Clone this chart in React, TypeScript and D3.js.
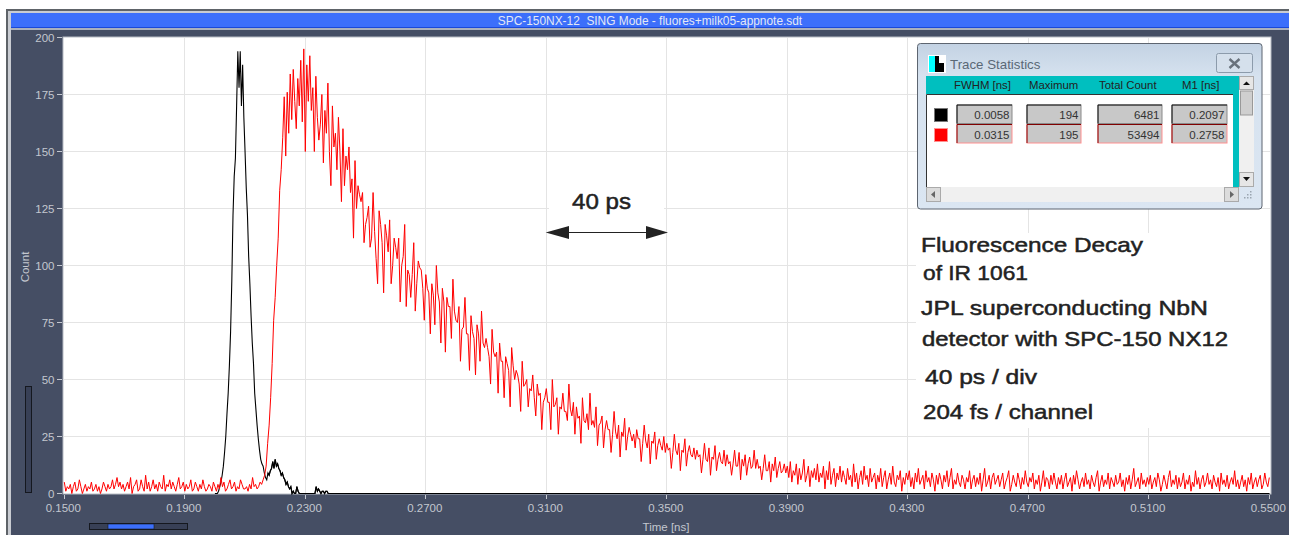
import React from "react";
import * as d3 from "d3";

const xTicks = [0.15, 0.19, 0.23, 0.27, 0.31, 0.35, 0.39, 0.43, 0.47, 0.51, 0.55];
const yTicks = [0, 25, 50, 75, 100, 125, 150, 175, 200];
const statRows = [
  { color: "#000000", edge: "#8a8a8a", values: ["0.0058", "194", "6481", "0.2097"] },
  { color: "#ff0000", edge: "#ff9090", values: ["0.0315", "195", "53494", "0.2758"] },
];
const statHeaders = ["FWHM [ns]", "Maximum", "Total Count", "M1 [ns]"];

const blackStart = 0.2;
const blackStep = 0.0004;
const blackValues = [
  0, 0, 0, 1, 3, 5, 8, 12, 18, 25, 35, 44, 56, 71, 93, 122, 139, 147, 170, 194,
  178, 194, 170, 188, 165, 150, 134, 122, 104, 92, 78, 66, 57, 44, 37, 30, 24, 19, 15, 13,
  12, 9, 7, 6, 9, 8, 10, 11, 14, 11, 15, 12, 13, 11, 10, 8, 9, 7, 6, 4,
  5, 3, 2, 3, 0, 1, 0, 0, 3, 1, 0, 0, 0, 0, 0, 0, 0, 0, 0, 0,
  0, 0, 0, 0, 3, 1, 2, 1, 0, 1, 1, 0, 1, 1, 0, 0, 0, 0, 0, 0,
];
const blackTailTimes = [0.24, 0.55];
const blackTailValues = [0, 0];

const redStart = 0.15;
const redStep = 0.0005;
const redValues = [
  5, 1, 3, 2, 4, 0, 3, 5, 1, 2, 6, 3, 0, 2, 4, 1, 3, 2, 5, 1,
  2, 4, 1, 3, 0, 2, 5, 3, 1, 4, 2, 3, 6, 2, 4, 7, 3, 5, 2, 4,
  1, 3, 5, 2, 7, 0, 3, 4, 6, 1, 2, 6, 3, 1, 8, 2, 5, 1, 3, 6,
  2, 4, 1, 5, 3, 2, 8, 1, 4, 3, 6, 2, 5, 3, 1, 4, 7, 2, 3, 5,
  1, 4, 2, 3, 6, 1, 2, 5, 3, 1, 4, 2, 6, 3, 1, 2, 4, 3, 1, 5,
  3, 1, 4, 2, 7, 3, 5, 1, 2, 4, 6, 2, 3, 5, 1, 3, 2, 6, 4, 2,
  2, 3, 1, 4, 2, 7, 3, 4, 2, 3, 5, 4, 6, 8, 12, 22, 30, 42, 57, 76,
  86, 100, 112, 133, 142, 156, 174, 148, 176, 158, 184, 164, 186, 172, 160, 182, 170, 190, 163, 195,
  150, 188, 172, 192, 168, 178, 150, 183, 165, 155, 162, 175, 145, 168, 158, 180, 150, 135, 170, 152,
  158, 142, 165, 150, 128, 160, 135, 148, 142, 152, 132, 138, 112, 146, 125, 135, 131, 128, 132, 110,
  118, 121, 126, 108, 112, 132, 115, 103, 92, 124, 118, 110, 88, 118, 113, 106, 120, 92, 100, 112,
  108, 103, 112, 84, 100, 104, 118, 82, 98, 96, 86, 96, 110, 80, 92, 102, 99, 98, 90, 76,
  96, 90, 88, 70, 92, 87, 74, 100, 88, 84, 66, 90, 84, 62, 86, 82, 82, 68, 94, 80,
  76, 75, 82, 58, 72, 73, 86, 70, 70, 54, 78, 71, 68, 52, 74, 70, 58, 80, 66, 64,
  68, 64, 60, 48, 72, 62, 60, 62, 44, 66, 58, 58, 42, 60, 57, 54, 38, 64, 56, 50,
  54, 52, 48, 36, 58, 47, 48, 50, 38, 46, 45, 52, 42, 34, 48, 43, 44, 28, 40, 42,
  46, 40, 40, 28, 50, 38, 39, 42, 26, 38, 37, 44, 36, 36, 32, 48, 37, 34, 40, 26,
  38, 33, 34, 22, 42, 32, 31, 35, 28, 44, 30, 32, 29, 38, 21, 30, 31, 34, 20, 28,
  32, 28, 28, 18, 26, 36, 27, 24, 30, 16, 27, 25, 33, 19, 25, 29, 26, 23, 26, 20,
  28, 24, 24, 14, 22, 30, 23, 20, 26, 13, 23, 22, 27, 15, 21, 24, 21, 19, 25, 18,
  22, 19, 20, 11, 18, 26, 19, 17, 22, 10, 19, 18, 24, 12, 18, 21, 17, 16, 20, 15,
  19, 16, 17, 9, 15, 22, 15, 14, 20, 8, 16, 15, 21, 10, 15, 18, 14, 13, 19, 12,
  17, 13, 14, 8, 13, 19, 12, 12, 18, 6, 15, 12, 17, 8, 13, 16, 11, 12, 19, 11,
  15, 11, 12, 6, 11, 17, 10, 10, 14, 5, 13, 10, 16, 7, 11, 14, 9, 10, 13, 9,
  12, 7, 14, 5, 10, 8, 13, 4, 11, 6, 9, 15, 5, 8, 12, 3, 10, 7, 11, 6,
  13, 5, 9, 7, 12, 2, 10, 6, 14, 4, 8, 11, 3, 9, 6, 12, 5, 10, 7, 4,
  11, 6, 8, 3, 13, 5, 9, 2, 7, 10, 4, 12, 6, 8, 3, 11, 5, 7, 9, 2,
  8, 5, 11, 3, 7, 10, 2, 6, 9, 4, 12, 5, 3, 8, 6, 10, 1, 7, 4, 9,
  6, 10, 3, 7, 2, 9, 5, 11, 4, 6, 8, 2, 10, 5, 7, 3, 9, 6, 1, 8,
  4, 9, 6, 2, 8, 5, 10, 3, 7, 11, 2, 6, 4, 9, 5, 3, 8, 6, 2, 7,
  5, 10, 2, 6, 8, 3, 7, 4, 9, 1, 6, 11, 3, 5, 8, 2, 7, 9, 4, 6,
  8, 3, 6, 9, 2, 5, 7, 10, 1, 4, 8, 5, 3, 9, 6, 2, 7, 4, 10, 5,
  3, 7, 5, 9, 2, 6, 4, 8, 1, 5, 10, 3, 7, 6, 2, 8, 4, 9, 5, 2,
  7, 4, 8, 2, 6, 9, 3, 5, 7, 1, 8, 4, 10, 6, 2, 5, 7, 3, 9, 4,
  6, 2, 8, 5, 3, 7, 10, 1, 5, 8, 3, 6, 4, 9, 2, 7, 5, 3, 8, 4,
  5, 9, 3, 6, 1, 7, 4, 8, 2, 6, 11, 3, 5, 7, 2, 9, 4, 6, 3, 7,
  4, 8, 2, 5, 7, 3, 9, 6, 1, 4, 8, 5, 2, 7, 10, 3, 6, 4, 8, 2,
  7, 3, 5, 9, 2, 6, 4, 8, 1, 5, 3, 10, 4, 7, 2, 6, 8, 3, 5, 9,
  4, 6, 2, 8, 5, 3, 7, 1, 9, 4, 6, 3, 8, 2, 5, 7, 4, 10, 3, 6,
  2, 5, 8, 3, 6, 1, 7, 4, 9, 2, 5, 7, 3, 6, 8, 2, 4, 9, 5, 3,
  7, 4, 1, 6, 9, 3, 5, 2, 8, 4, 6, 11, 2, 5, 7, 3, 8, 4, 1, 6,
  3, 8, 5, 2, 6, 4, 9, 3, 7, 1, 5, 8, 4, 6, 2, 7, 3, 5, 9, 2,
  6, 4, 7, 2, 5, 8, 3, 1, 6, 9, 4, 5, 2, 7, 3, 6, 8, 1, 4, 5,
  8, 2, 6, 4, 7, 3, 5, 9, 1, 6, 3, 8, 4, 2, 5, 7, 3, 6, 10, 2,
  4, 7, 3, 5, 1, 6, 8, 2, 4, 7, 5, 3, 9, 2, 6, 4, 8, 1, 5, 3,
  7, 4, 6, 2, 8, 3, 5, 1, 7, 4, 9, 2, 6, 3, 5, 8, 1, 4, 6, 3,
  5, 8, 2, 4, 7, 3, 6, 1, 5, 9, 3, 4, 7, 2, 6, 3, 8, 5, 1, 4,
  6, 3, 8, 1, 5, 4, 7, 2, 6, 3, 9, 4, 1, 5, 7, 2, 6, 4, 3, 8,
  2, 5, 7, 3, 4, 9, 1, 6, 3, 5, 8, 2, 4, 6, 3, 7, 1, 5, 8, 3,
  4, 7, 2, 6, 3, 5, 8, 1, 4, 6, 2, 7, 5, 3, 9, 2, 4, 6, 3, 5,
  8, 1, 4, 6, 3, 7, 2, 5, 4, 9, 1, 6, 3, 5, 7, 2, 4, 8, 3, 5,
  2, 6, 4, 7, 1, 5, 3, 8, 2, 6, 4, 9, 3, 5, 1, 7, 4, 2, 6, 3,
  7, 3, 5, 1, 6, 4, 8, 2, 5, 3, 7, 4, 1, 6, 10, 2, 5, 3, 7, 4,
  2, 6, 4, 8, 3, 5, 1, 7, 3, 4, 6, 2, 8, 5, 1, 4, 7, 3, 5, 2,
  5, 3, 7, 2, 6, 4, 1, 8, 3, 5, 6, 2, 4, 7, 3, 1, 6, 4, 8, 2,
  6, 1, 4, 7, 3, 5, 2, 9, 4, 6, 1, 3, 7, 5, 2, 6, 3, 8, 4, 1,
  3, 6, 4, 8, 2, 5, 3, 6, 1, 7, 4, 2, 5, 8, 3, 4, 6, 1, 5, 3,
  7, 4, 2, 5, 3, 9, 1, 6, 4, 2, 7, 3, 5, 8, 2, 4, 6, 3, 1, 5,
  3, 6, 2, 7, 4, 1, 5, 8, 3, 4, 6, 2, 5, 3, 7, 1, 4, 6, 2, 5,
  8, 2, 5, 3, 6, 4, 7, 1, 3, 5, 9, 2, 4, 6, 3, 7, 2, 5, 3, 6,
  4, 1, 6, 3, 7, 5, 2, 4, 8, 3, 5, 1, 6, 4, 2, 7, 3, 5, 1, 4,
  6, 3, 8, 2, 4, 5, 1, 7, 3, 6, 2, 4, 9, 3, 5, 1, 6, 4, 7, 2,
  3, 5, 1, 6, 4, 7, 2, 5, 3, 8, 4, 1, 5, 6, 2, 3, 7, 4, 1, 5,
  7, 2, 4, 6, 3, 5, 1, 8, 3, 4, 6, 2, 5, 3, 7, 4, 1, 6, 3, 5,
  2, 5, 3, 7, 1, 4, 6, 3, 8, 2, 5, 4, 1, 6, 3, 5, 7, 2, 4, 3,
  6, 3, 5, 2, 8, 4, 1, 6, 3, 5, 4, 7, 2, 3, 6, 1, 5, 4, 8, 2,
  4, 7, 2, 5, 3, 1, 6, 4, 7, 3, 5, 2, 4, 9, 3, 5, 1, 6, 3, 4,
  2, 5, 4, 7, 3, 6, 1, 4, 5, 2, 8, 3, 5, 1, 6, 4, 3, 7, 2, 5,
  5, 11, 3, 6, 2, 8, 4, 1, 5, 7, 3, 4, 6, 2, 9, 3, 5, 1, 6, 4,
  7, 2, 4, 6, 3, 5, 1, 11, 4, 6, 3, 2, 7, 4, 1, 5, 3, 6, 8, 2,
  4, 6, 3, 5, 1, 7, 4, 2, 8, 3, 5, 4, 1, 6, 3, 7, 2, 5, 4, 3,
  6, 2, 4, 7, 3, 1, 5, 4, 6, 2, 8, 3, 5, 1, 4, 6, 2, 7, 3, 4,
  1, 5, 3, 7, 2, 4, 6, 1, 3, 5, 2, 6, 4, 1, 7, 3, 5, 2, 4, 6,
  3, 5, 1, 6, 2, 4, 8, 1, 3, 5, 2, 4, 6, 1, 3, 7, 2, 5, 1, 4,
  2, 6, 3, 4, 1, 5, 3, 7, 2, 4, 1, 3, 6, 2, 5, 1, 4, 3, 2, 5,
  3, 1, 4, 6, 2, 5, 1, 3, 4, 2, 7, 3, 1, 5, 4, 2, 6, 3, 5, 2,
  4, 2, 5, 3, 1, 6, 2, 4, 3, 1, 5, 7, 2, 4, 1, 3, 6, 4, 2, 5,
  3,
];

const titleText = "SPC-150NX-12  SING Mode - fluores+milk05-appnote.sdt";
const notes = [
  { text: "Fluorescence Decay", x: 921, y: 252, w: 222 },
  { text: "of IR 1061", x: 923, y: 279.5, w: 105 },
  { text: "JPL superconducting NbN", x: 921, y: 315, w: 287 },
  { text: "detector with SPC-150 NX12", x: 922, y: 346, w: 306 },
  { text: "40 ps / div", x: 925, y: 384, w: 112 },
  { text: "204 fs / channel", x: 923, y: 419, w: 170 },
];

const SANS = "'Liberation Sans', Arial, sans-serif";
const SLATE = "#454e64";
const TICK_TEXT = "#c3c7cf";

const x = d3.scaleLinear().domain([0.15, 0.55]).range([64.3, 1269.3]);
const y = d3.scaleLinear().domain([0, 200]).range([493.5, 37.5]);
const line = d3
  .line<[number, number]>()
  .x((d) => x(d[0]))
  .y((d) => y(d[1]))
  .curve(d3.curveLinear);

const redPoints: [number, number][] = redValues
  .map((v, i): [number, number] => [redStart + i * redStep, v])
  .filter((d) => d[0] <= 0.5501);
const blackPoints: [number, number][] = [
  ...blackValues.map((v, i): [number, number] => [blackStart + i * blackStep, v]),
  ...blackTailTimes.map((t, i): [number, number] => [t, blackTailValues[i]]),
];

const statColumns = [
  { x0: 957, x1: 1012, head: 954 },
  { x0: 1027, x1: 1081, head: 1029 },
  { x0: 1098, x1: 1162, head: 1099 },
  { x0: 1172, x1: 1227, head: 1182 },
];

function StatsWindow() {
  return (
    <g fontFamily={SANS}>
      <defs>
        <linearGradient id="winGrad" x1="0" y1="0" x2="0" y2="1">
          <stop offset="0" stopColor="#c3d2e3" />
          <stop offset="0.2" stopColor="#d6e2ef" />
          <stop offset="1" stopColor="#dbe6f2" />
        </linearGradient>
      </defs>
      <rect x={917.5} y={43.5} width={344.5} height={165.5} rx={3} fill="url(#winGrad)" stroke="#5d6570" />
      <rect x={928} y={55} width={18} height={18} fill="#fff" />
      <rect x={929} y={56} width={6} height={16} fill="#00ffff" />
      <rect x={935} y={56} width={4} height={16} fill="#000" />
      <rect x={939} y={63} width={5} height={9} fill="#000" />
      <text x={950} y={69} fontSize={13.3} fill="#5a6876">Trace Statistics</text>
      <rect x={1216.5} y={53.5} width={36} height={19} rx={2} fill="#d5e0ec" stroke="#8c9bab" />
      <path d="M1229.5 59l10 9M1239.5 59l-10 9" stroke="#69727c" strokeWidth={2.4} />

      <rect x={926} y={76} width={313} height={111} fill="#00bfbf" />
      <rect x={926} y={94} width={307} height={93} fill="#ffffff" />
      <path d="M926.5 187V94.5H1233" stroke="#333" fill="none" />
      {statHeaders.map((h, i) => (
        <text key={h} x={statColumns[i].head} y={89} fontSize={11.4} fill="#222" style={{ whiteSpace: "pre" }}>
          {h}
        </text>
      ))}
      {statRows.map((row, r) => {
        const top = 105 + r * 19.5;
        return (
          <g key={row.color}>
            <rect x={934.5} y={top + 3.5 + r * 0.5} width={13} height={13} fill={row.color} stroke={r ? "#ff9090" : "#777"} />
            {row.values.map((v, c) => (
              <g key={c}>
                <rect x={statColumns[c].x0} y={top} width={statColumns[c].x1 - statColumns[c].x0} height={18.5} fill="#c8c8c8" stroke={row.edge} />
                <path d={`M${statColumns[c].x0} ${top + 18.5}V${top}H${statColumns[c].x1}`} fill="none" stroke={r ? "#800000" : "#111"} />
                <text x={statColumns[c].x1 - 2.5} y={top + 14} textAnchor="end" fontSize={11.5} fill="#333">{v}</text>
              </g>
            ))}
          </g>
        );
      })}
      {/* vertical scrollbar */}
      <rect x={1239} y={76} width={15} height={111} fill="#f0f0f0" />
      <rect x={1239.5} y={76.5} width={14} height={13} fill="#e6e6e6" stroke="#aaa" />
      <path d="M1243 85h7l-3.5-3.5z" fill="#111" />
      <rect x={1240.5} y={91} width={12} height={24} fill="#cfcfcf" stroke="#999" />
      <rect x={1239.5} y={172.5} width={14} height={14} fill="#e6e6e6" stroke="#aaa" />
      <path d="M1243 177h7l-3.5 4z" fill="#111" />
      {/* horizontal scrollbar */}
      <rect x={926} y={187} width={313} height={15} fill="#f0f0f0" />
      <rect x={926.5} y={187.5} width={14} height={14} fill="#dcdcdc" stroke="#aaa" />
      <path d="M935 191v7l-4-3.500z" fill="#666" />
      <rect x={1224.5} y={187.5} width={14} height={14} fill="#dcdcdc" stroke="#aaa" />
      <path d="M1230 191v7l4-3.500z" fill="#666" />
      <path d="M1250 191h1.500v1.500h-1.500zM1247 194h1.500v1.500h-1.500zM1250 194h1.500v1.500h-1.500zM1244 197h1.500v1.500h-1.500zM1247 197h1.500v1.500h-1.500zM1250 197h1.500v1.500h-1.500z" fill="#9aa5b0" />
    </g>
  );
}

export default function App() {
  return (
    <svg
      width={1289}
      height={535}
      viewBox="0 0 1289 535"
      style={{ position: "absolute", left: 0, top: 0, display: "block" }}
      fontFamily={SANS}
    >
      <rect width={1289} height={535} fill="#ffffff" />
      {/* window frame */}
      <rect x={6} y={9} width={1283} height={526} fill="#5e6368" />
      <rect x={8} y={11} width={1281} height={524} fill="#c9ccd2" />
      <rect x={11} y={13} width={1278} height={522} fill={SLATE} />
      <rect x={11} y={13} width={1278} height={14} fill="#3c6ffb" />
      <rect x={11} y={27} width={1278} height={1} fill="#1b49d8" />
      <rect x={11} y={28} width={1278} height={2} fill="#aab0bd" />
      <text x={650} y={24.500} textAnchor="middle" fontSize={11.900} fill="#e3e8f5" style={{ whiteSpace: "pre" }}>
        {titleText}
      </text>

      {/* plot area */}
      <rect x={63} y={37} width={1208} height={457} fill="#ffffff" stroke="#b8bcc4" />
      <g stroke="#e4e4e4" strokeWidth={1} shapeRendering="crispEdges">
        {xTicks.slice(1, -1).map((t) => (
          <line key={t} x1={x(t)} x2={x(t)} y1={38} y2={493} />
        ))}
        {yTicks.slice(1, -1).map((t) => (
          <line key={t} x1={64} x2={1270} y1={y(t)} y2={y(t)} />
        ))}
      </g>

      {/* pasted white annotation patches */}
      <rect x={549} y={190} width={115} height={56} fill="#fff" />
      <rect x={916} y={233} width={354} height={195} fill="#fff" />

      {/* traces */}
      <path d={line(blackPoints) ?? ""} fill="none" stroke="#000000" strokeWidth={1.100} />
      <path d={line(redPoints) ?? ""} fill="none" stroke="#ff0000" strokeWidth={1} strokeLinejoin="bevel" />
      <path d={line(blackPoints.slice(44)) ?? ""} fill="none" stroke="#000000" strokeWidth={1.100} />

      {/* axes */}
      <g stroke={TICK_TEXT} strokeWidth={1} shapeRendering="crispEdges">
        {yTicks.map((t) => (
          <line key={t} x1={57} x2={62} y1={y(t)} y2={y(t)} />
        ))}
        {xTicks.map((t) => (
          <line key={t} x1={x(t)} x2={x(t)} y1={495} y2={499} />
        ))}
      </g>
      <g fontSize={11.500} fill={TICK_TEXT}>
        {yTicks.map((t) => (
          <text key={t} x={54.500} y={y(t) + 4} textAnchor="end">{t}</text>
        ))}
        {xTicks.map((t) => (
          <text key={t} x={x(t) - 1} y={512} textAnchor="middle">{t.toFixed(4)}</text>
        ))}
        <text x={666} y={531} textAnchor="middle">Time [ns]</text>
        <text transform="translate(29,267) rotate(-90)" textAnchor="middle">Count</text>
      </g>

      {/* sliders */}
      <rect x={25.500} y={386.500} width={6} height={106} fill="#384056" stroke="#15181f" />
      <rect x={89.500} y={523.500} width={98} height={6} fill="#384056" stroke="#15181f" />
      <rect x={108} y={524} width={46} height={5} fill="#3c6ffb" stroke="#15181f" strokeWidth={0.600} />

      {/* annotations */}
      <g fill="#222222" stroke="#222222" strokeWidth={0.500}>
        <text x={572} y={209} fontSize={22} textLength={59} lengthAdjust="spacingAndGlyphs">40 ps</text>
        {notes.map((n) => (
          <text key={n.text} x={n.x} y={n.y} fontSize={21} textLength={n.w} lengthAdjust="spacingAndGlyphs">
            {n.text}
          </text>
        ))}
      </g>
      <line x1={560} x2={655} y1={232.500} y2={232.500} stroke="#222" strokeWidth={1.200} />
      <path d="M545.700 232.500L569 226V239Z" fill="#222" />
      <path d="M668 232.500L646 226V239Z" fill="#222" />

      <StatsWindow />
    </svg>
  );
}
